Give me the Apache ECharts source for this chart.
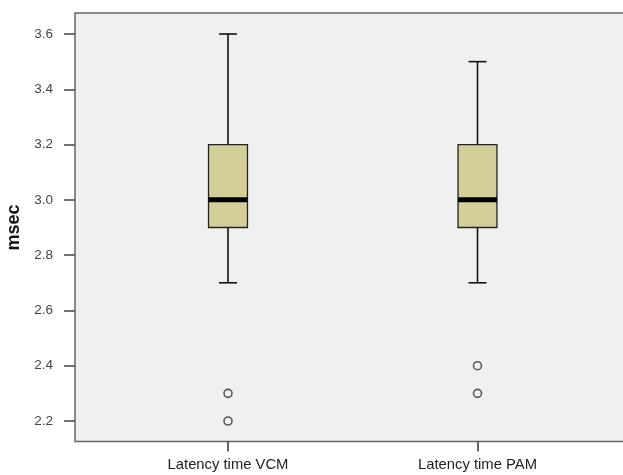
<!DOCTYPE html>
<html><head><meta charset="utf-8">
<script src="https://cdn.jsdelivr.net/npm/echarts@6/dist/echarts.min.js"></script>
<style>html,body{margin:0;padding:0;background:#fff}#c{width:623px;height:475px}</style>
</head><body><div id="c"></div>
<script>
const categories = ['Latency time VCM', 'Latency time PAM'];
// [lower whisker, Q1, median, Q3, upper whisker]
const boxStats = [
  [2.7, 2.9, 3.0, 3.2, 3.6],
  [2.7, 2.9, 3.0, 3.2, 3.5]
];
const outliers = [[0, 2.3], [0, 2.2], [1, 2.4], [1, 2.3]];
const yTicks = { min: 2.2, max: 3.6, interval: 0.2 };
const yName = 'msec';

const FONT = "'Liberation Sans', Arial, sans-serif";
const chart = echarts.init(document.getElementById('c'), null, {renderer: 'canvas'});

function renderBox(params, api) {
  const i = api.value(0);
  const lo = api.coord([i, api.value(1)]);
  const q1 = api.coord([i, api.value(2)]);
  const md = api.coord([i, api.value(3)]);
  const q3 = api.coord([i, api.value(4)]);
  const hi = api.coord([i, api.value(5)]);
  const bw = api.size([1, 0])[0];
  const half = bw * 0.078;
  const cap = bw * 0.036;
  const x = lo[0];
  const lineStyle = {stroke: '#111', lineWidth: 1.6};
  return {
    type: 'group',
    children: [
      {type: 'line', shape: {x1: x, y1: hi[1], x2: x, y2: q3[1]}, style: lineStyle},
      {type: 'line', shape: {x1: x, y1: q1[1], x2: x, y2: lo[1]}, style: lineStyle},
      {type: 'line', shape: {x1: x - cap, y1: hi[1], x2: x + cap, y2: hi[1]}, style: lineStyle},
      {type: 'line', shape: {x1: x - cap, y1: lo[1], x2: x + cap, y2: lo[1]}, style: lineStyle},
      {type: 'rect', shape: {x: x - half, y: q3[1], width: half * 2, height: q1[1] - q3[1]},
        style: {fill: '#d4ce99', stroke: '#222', lineWidth: 1.3}},
      {type: 'line', shape: {x1: x - half, y1: md[1], x2: x + half, y2: md[1]},
        style: {stroke: '#000', lineWidth: 5}}
    ]
  };
}

chart.setOption({
  animation: false,
  backgroundColor: '#ffffff',
  grid: [
    {left: 75, right: -3, top: 13, bottom: 33.5, show: true, backgroundColor: '#f0f0f0',
      borderColor: '#666', borderWidth: 1.5, outerBoundsMode: 'none', containLabel: false},
    {left: 103.25, right: 20.75, top: 34, bottom: 54, outerBoundsMode: 'none', containLabel: false}
  ],
  xAxis: [
    {gridIndex: 0, type: 'value', show: false, min: 0, max: 1},
    {gridIndex: 1, type: 'category', data: categories, offset: 20.5,
      axisLine: {show: false},
      axisTick: {show: true, alignWithLabel: true, length: 10, lineStyle: {color: '#333', width: 1.5}},
      axisLabel: {color: '#222', fontFamily: FONT, fontSize: 14.8, margin: 16}}
  ],
  yAxis: [
    {gridIndex: 0, type: 'value', show: false, min: 0, max: 1},
    {gridIndex: 1, type: 'value', min: yTicks.min, max: yTicks.max, interval: yTicks.interval,
      offset: 28.25,
      name: yName, nameLocation: 'middle', nameGap: 51, nameRotate: 90,
      nameTextStyle: {fontFamily: FONT, fontSize: 18, fontWeight: 'bold', color: '#111'},
      axisLine: {show: false},
      axisTick: {show: true, length: 11, lineStyle: {color: '#444', width: 1.5}},
      splitLine: {show: false},
      axisLabel: {color: '#444', fontFamily: FONT, fontSize: 13.5, margin: 22,
        formatter: v => v.toFixed(1)}}
  ],
  series: [
    {type: 'custom', xAxisIndex: 1, yAxisIndex: 1,
      data: boxStats.map((s, i) => [i].concat(s)),
      encode: {x: 0, y: [1, 2, 3, 4, 5]},
      renderItem: renderBox, z: 3},
    {type: 'scatter', xAxisIndex: 1, yAxisIndex: 1, data: outliers,
      symbol: 'circle', symbolSize: 8,
      itemStyle: {color: '#f0f0f0', borderColor: '#333', borderWidth: 1.6}, z: 4}
  ]
});
</script></body></html>
